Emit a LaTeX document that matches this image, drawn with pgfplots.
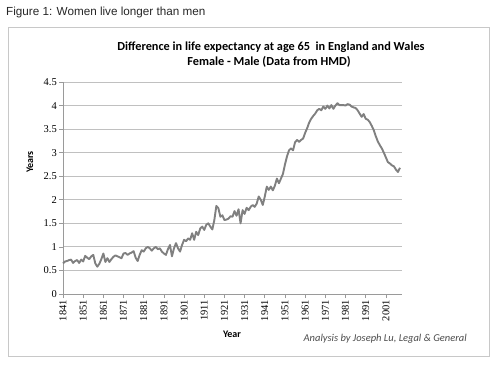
\documentclass[border=0pt]{standalone}
\usepackage{pgfplots}
\pgfplotsset{compat=1.18}
\usepackage{fontspec}
\setmainfont{Liberation Serif}
\newfontfamily\carlito{Carlito}
\newfontfamily\arialf{Liberation Sans}
\definecolor{linegray}{RGB}{128,128,128}
\definecolor{gridgray}{RGB}{192,192,192}
\definecolor{boxgray}{RGB}{200,200,200}
\begin{document}
\begin{tikzpicture}[x=1pt,y=1pt]
\path[use as bounding box] (0,0) rectangle (500,367);
\node[anchor=west, font=\arialf\fontsize{11.7}{13}\selectfont, text=black!85, inner sep=0] at (6,355) {Figure 1: Women live longer than men};
\draw[boxgray, line width=0.9pt] (8,11) rectangle (489,340);
\begin{axis}[
  at={(63pt,73pt)}, anchor=south west,
  width=339pt, height=212pt, scale only axis,
  xmin=1841, xmax=2009, ymin=0, ymax=4.5,
  axis lines*=left,
  axis line style={gridgray!80!black, line width=0.7pt},
  xtick={1841,1851,...,2001},
  ytick={0,0.5,...,4.5},
  ymajorgrids, major grid style={gridgray, line width=0.8pt},
  tick style={gridgray!80!black, line width=0.7pt},
  tick align=outside, major tick length=4pt,
  /pgf/number format/1000 sep={},
  /pgf/number format/assume math mode=true,
  x tick label style={rotate=90, anchor=east, font=\fontsize{10.5}{11}\selectfont, inner sep=2pt},
  y tick label style={font=\fontsize{10.5}{11}\selectfont, inner sep=2pt},
  clip=false,
]
\addplot[linegray, line width=1.9pt, line join=round] coordinates {
(1841,0.65)(1842,0.69)(1843,0.70)(1844,0.72)(1845,0.73)(1846,0.66)(1847,0.70)(1848,0.72)(1849,0.66)(1850,0.73)
(1851,0.69)(1852,0.81)(1853,0.77)(1854,0.74)(1855,0.80)(1856,0.83)(1857,0.65)(1858,0.58)(1859,0.64)(1860,0.74)
(1861,0.86)(1862,0.68)(1863,0.76)(1864,0.68)(1865,0.74)(1866,0.79)(1867,0.82)(1868,0.80)(1869,0.78)(1870,0.76)
(1871,0.86)(1872,0.87)(1873,0.83)(1874,0.86)(1875,0.88)(1876,0.91)(1877,0.77)(1878,0.70)(1879,0.83)(1880,0.93)
(1881,0.90)(1882,0.97)(1883,1.00)(1884,0.97)(1885,0.92)(1886,0.97)(1887,1.00)(1888,0.95)(1889,0.97)(1890,0.90)
(1891,0.86)(1892,0.83)(1893,0.95)(1894,1.04)(1895,0.80)(1896,0.97)(1897,1.08)(1898,0.97)(1899,0.90)(1900,1.04)
(1901,1.15)(1902,1.12)(1903,1.18)(1904,1.15)(1905,1.29)(1906,1.15)(1907,1.32)(1908,1.25)(1909,1.39)(1910,1.43)
(1911,1.36)(1912,1.47)(1913,1.50)(1914,1.43)(1915,1.37)(1916,1.57)(1917,1.87)(1918,1.82)(1919,1.64)(1920,1.67)
(1921,1.57)(1922,1.58)(1923,1.60)(1924,1.65)(1925,1.64)(1926,1.76)(1927,1.66)(1928,1.80)(1929,1.50)(1930,1.78)
(1931,1.70)(1932,1.83)(1933,1.78)(1934,1.85)(1935,1.89)(1936,1.85)(1937,1.92)(1938,2.07)(1939,2.00)(1940,1.89)
(1941,2.07)(1942,2.28)(1943,2.21)(1944,2.28)(1945,2.20)(1946,2.30)(1947,2.45)(1948,2.35)(1949,2.45)(1950,2.55)
(1951,2.75)(1952,2.92)(1953,3.05)(1954,3.09)(1955,3.05)(1956,3.22)(1957,3.27)(1958,3.23)(1959,3.27)(1960,3.30)
(1961,3.42)(1962,3.52)(1963,3.64)(1964,3.72)(1965,3.78)(1966,3.83)(1967,3.90)(1968,3.93)(1969,3.90)(1970,3.98)
(1971,3.93)(1972,4.00)(1973,3.94)(1974,4.01)(1975,3.93)(1976,4.00)(1977,4.05)(1978,4.01)(1979,4.01)(1980,4.01)
(1981,4.00)(1982,4.03)(1983,4.02)(1984,3.98)(1985,3.96)(1986,3.95)(1987,3.90)(1988,3.83)(1989,3.76)(1990,3.82)
(1991,3.72)(1992,3.70)(1993,3.65)(1994,3.57)(1995,3.48)(1996,3.35)(1997,3.24)(1998,3.16)(1999,3.09)(2000,3.00)
(2001,2.90)(2002,2.80)(2003,2.77)(2004,2.73)(2005,2.71)(2006,2.64)(2007,2.59)(2008,2.68)
};
\end{axis}
\node[font=\carlito\bfseries\fontsize{12.3}{14}\selectfont, inner sep=0] at (271,320) {Difference in life expectancy at age 65\ \ in England and Wales};
\node[font=\carlito\bfseries\fontsize{12.3}{14}\selectfont, inner sep=0] at (269,305) {Female - Male (Data from HMD)};
\node[font=\carlito\bfseries\fontsize{10}{11}\selectfont, rotate=90, inner sep=0] at (30,205) {Years};
\node[font=\carlito\bfseries\fontsize{10}{11}\selectfont, inner sep=0] at (232,33) {Year};
\node[font=\carlito\itshape\fontsize{10.5}{12}\selectfont, text=black!70, anchor=east, inner sep=0] at (467,28) {Analysis by Joseph Lu, Legal \& General};
\end{tikzpicture}
\end{document}
